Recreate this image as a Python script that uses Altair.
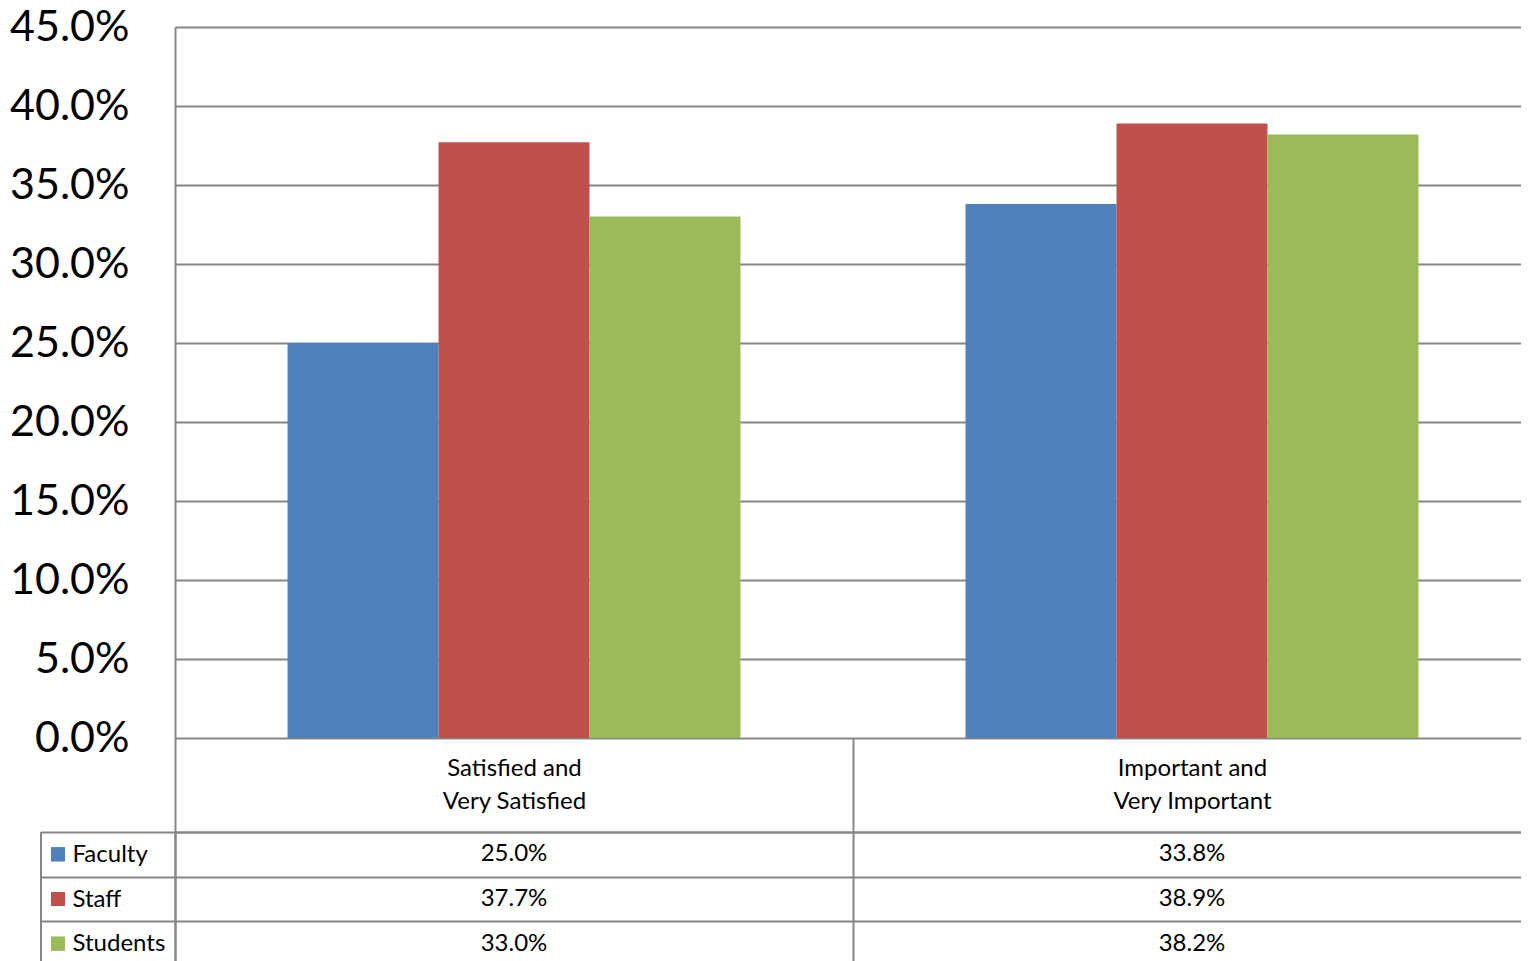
import altair as alt
import pandas as pd

categories = ["Satisfied and\nVery Satisfied", "Important and\nVery Important"]
series = ["Faculty", "Staff", "Students"]
faculty = [0.250, 0.338]
staff = [0.377, 0.389]
students = [0.330, 0.382]
tick_values = [0.0, 0.05, 0.10, 0.15, 0.20, 0.25, 0.30, 0.35, 0.40, 0.45]
colors = ["#4F81BD", "#C0504D", "#9BBB59"]

rows = []
for s, vals in zip(series, [faculty, staff, students]):
    for c, v in zip(categories, vals):
        rows.append({"category": c, "series": s, "value": v})
df = pd.DataFrame(rows)

GRID = "#868686"
LW = 2
FONT = "Lato"

color_enc = alt.Color("series:N", sort=series,
                      scale=alt.Scale(domain=series, range=colors), legend=None)

bars = alt.Chart(df).mark_bar().encode(
    x=alt.X("category:N", sort=categories, axis=None,
            scale=alt.Scale(paddingInner=0.3319, paddingOuter=0.166)),
    xOffset=alt.XOffset("series:N", sort=series,
                        scale=alt.Scale(paddingInner=0, paddingOuter=0)),
    y=alt.Y("value:Q",
            scale=alt.Scale(domain=[0, 0.45], nice=False, zero=True),
            axis=alt.Axis(values=tick_values, format=".1%", title=None,
                          labelFontSize=43, labelFont=FONT, labelColor="#000000",
                          labelPadding=46, ticks=False, grid=True,
                          gridColor=GRID, gridWidth=LW, gridOpacity=1,
                          domainColor=GRID, domainWidth=LW)),
    color=color_enc,
).properties(width=1356, height=711)

xB = alt.X("category:N", sort=categories,
           scale=alt.Scale(paddingInner=0, paddingOuter=0),
           axis=alt.Axis(orient="top", title=None, tickBand="extent",
                         ticks=True, tickSize=94, tickColor=GRID, tickWidth=LW,
                         grid=True, gridColor=GRID, gridWidth=LW, gridOpacity=1,
                         domain=True, domainColor=GRID, domainWidth=LW,
                         labelExpr="split(datum.label, '\\n')",
                         labelFont=FONT, labelFontSize=24, labelColor="#000000",
                         labelLineHeight=33, labelPadding=-30,
                         labelBaseline="middle", labelAngle=0))
yB = alt.Y("series:N", sort=series,
           axis=alt.Axis(title=None, tickBand="extent", ticks=True,
                         tickSize=134, tickColor=GRID, tickWidth=LW,
                         grid=True, gridColor=GRID, gridWidth=LW, gridOpacity=1,
                         domain=True, domainColor=GRID, domainWidth=LW,
                         labelAlign="left", labelPadding=-31,
                         labelFont=FONT, labelFontSize=24, labelColor="#000000",
                         labelBaseline="middle"))

values_text = alt.Chart(df).mark_text(font=FONT, fontSize=24, color="#000000").encode(
    x=xB, y=yB, text=alt.Text("value:Q", format=".1%"))

swatches = alt.Chart(df).mark_square(size=196, opacity=1).encode(
    y=alt.Y("series:N", sort=series), x=alt.value(-117), color=color_enc)

border = alt.Chart(pd.DataFrame({"edge": [0]})).mark_rule(
    color=GRID, strokeWidth=LW).encode(
    x=alt.value(-134), y=alt.value(0), y2=alt.value("height"))

table = alt.layer(values_text, swatches, border).properties(width=1356, height=134)

chart = alt.vconcat(bars, table, spacing=94, bounds="flush").resolve_scale(
    x="independent", y="independent"
).properties(
    padding={"left": 1, "top": -3, "right": -12, "bottom": 0}
).configure_view(stroke=None).configure(font=FONT)

chart.save("out.html", embed_options={"renderer": "svg", "actions": False})
